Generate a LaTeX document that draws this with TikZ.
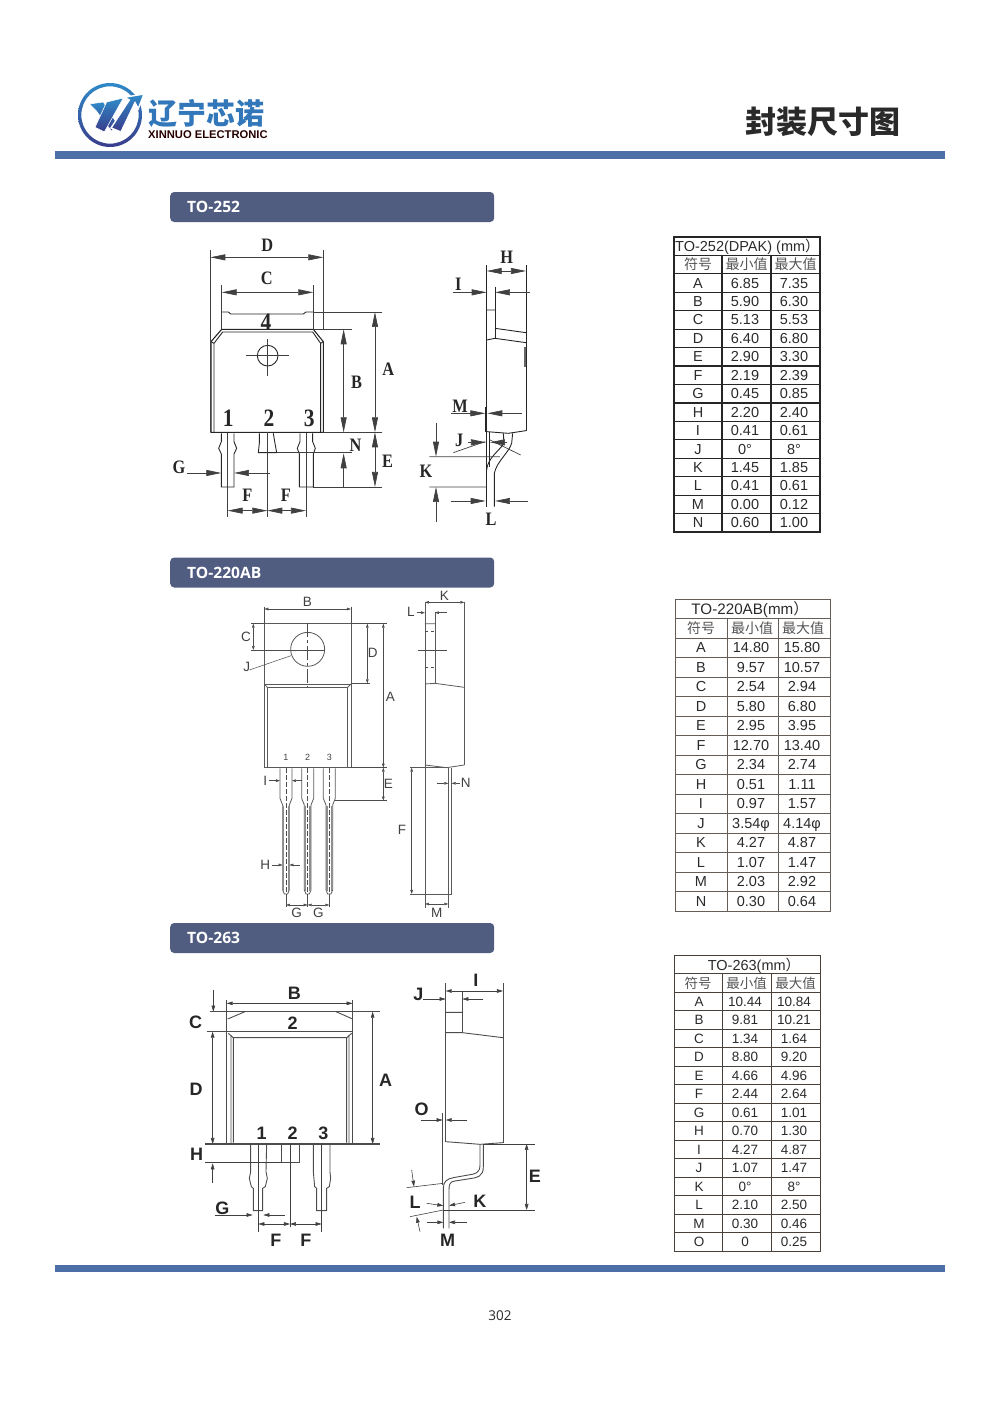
\documentclass[tikz,border=0pt]{standalone}
\usepackage{fontspec}
\setmainfont{Liberation Sans}
\newfontfamily\serifdim[FakeStretch=0.86]{Liberation Serif}
\newfontfamily\cjk{Noto Sans CJK SC}
\newfontfamily\headfont{Open Sans}
\usetikzlibrary{arrows.meta}
\definecolor{rulebl}{HTML}{4B6FA6}
\definecolor{barbl}{HTML}{505D80}
\definecolor{logobl}{HTML}{2F8AC8}
\definecolor{logoin}{HTML}{3A3C8C}
\definecolor{txtgr}{HTML}{2A2A2A}
\definecolor{tabbr}{HTML}{4A403A}
\newcommand{\fsz}[1]{\fontsize{#1}{#1}\selectfont}
\newcommand{\tablegrid}[4]{%
    \draw[gridline] (0,0) rectangle (#3,{16*#4});
    \foreach \r in {1,...,15} \draw[gridline] (0,{\r*#4}) -- (#3,{\r*#4});
    \draw[gridline] (#1,#4) -- (#1,{16*#4});
    \draw[gridline] (#2,#4) -- (#2,{16*#4});
}
\tikzset{
    zoomat/.style 2 args={shift={(#1,#2)}, x=0.3333pt, y=-0.3333pt},
    barbox/.style={fill=barbl, rounded corners=4pt, text=white, anchor=west, inner xsep=17pt, inner ysep=0pt,
        text width=290pt, minimum height=30pt, font=\headfont\bfseries\fsz{15.6}},
    rulebar/.style={fill=rulebl, draw=none},
    gridline/.style={draw=tabbr, line width=1pt},
    cell/.style={inner sep=0pt, text=txtgr, text height=10pt, text depth=0pt, font=\fsz{14.5}},
    cellcjk/.style={inner sep=0pt, text=txtgr!80, font=\cjk\fsz{14}},
    partA/.style={draw=black!85, line width=0.9pt},
    dimA/.style={draw=black!75, line width=0.7pt, >={Stealth[inset=0pt,length=15pt,width=6pt]}},
    lblA/.style={inner sep=0pt, text=black!85, font=\serifdim\bfseries\fsz{19}},
    numA/.style={inner sep=0pt, text=black!85, font=\serifdim\bfseries\fsz{25}},
    partB/.style={draw=black!65, line width=0.8pt},
    dimB/.style={draw=black!70, line width=0.5pt, >={Stealth[inset=0pt,length=4pt,width=2.6pt]}},
    lblB/.style={inner sep=0pt, text=black!75, font=\fsz{13.5}},
    partC/.style={draw=black!70, line width=0.9pt},
    dimC/.style={draw=black!75, line width=0.6pt, >={Stealth[inset=0pt,length=6pt,width=3.6pt]}},
    lblC/.style={inner sep=0pt, text=black!85, font=\bfseries\fsz{18}},
}
\begin{document}
\begin{tikzpicture}[x=1pt, y=-1pt]
    \useasboundingbox (0,0) rectangle (1000,1403);

    % page head and foot
    \begin{scope}[zoomat={75}{78}]
        \shade[top color=logobl, bottom color=logoin, even odd rule] (105,111) circle[radius=96] (105,111) circle[radius=86];
        \shadedraw[draw=white, line width=0.6pt, top color=logobl, bottom color=logoin] (43,78) -- (85,72) -- (125,135) -- (110,160) -- (65,100) -- cycle;
        \shadedraw[draw=white, line width=0.6pt, top color=logobl, bottom color=logoin] (95,72) -- (145,60) -- (88,162) -- (60,148) -- cycle;
        \shadedraw[draw=white, line width=1.4pt, top color=logobl, bottom color=logoin] (207,48) -- (190,92) -- (180,74) -- (138,162) -- (108,150) -- (163,66) -- (148,58) -- cycle;
    \end{scope}
    \node[inner sep=0pt, anchor=west, text=logobl!75!logoin, font=\cjk\bfseries\fsz{29}] (logozh) at (148,114) {辽宁芯诺};
    \node[inner sep=0pt, anchor=west, text=black!85!red, font=\bfseries\fsz{11.2}] (logoen) at (148,135) {XINNUO ELECTRONIC};
    \node[inner sep=0pt, anchor=east, text=txtgr, font=\cjk\bfseries\fsz{31}] (pagetitle) at (900.5,122) {封装尺寸图};
    \fill[rulebar] (55,151) rectangle (945,159);
    \fill[rulebar] (55,1265) rectangle (945,1272);
    \node[inner sep=0pt, text=txtgr, font=\headfont\fsz{13.5}] (pageno) at (500,1316) {302};

    \node[barbox] (bar252) at (170,207) {TO-252};
    \node[barbox] (bar220) at (170,572.5) {TO-220AB};
    \node[barbox] (bar263) at (170,938) {TO-263};

    % TO-252 front
    \begin{scope}[zoomat={160}{230}]
        \draw[partA, line width=1.1pt] (153,607) -- (153,335) -- (185,298) -- (460,298) -- (490,335) -- (490,607) -- cycle;
        \draw[partA] (162,607) -- (162,340) -- (188,306) -- (458,306) -- (482,340) -- (482,607);
        \draw[partA] (153,335) -- (162,340) (490,335) -- (482,340);
        \draw[partA] (185,246) -- (205,246) -- (212,252) -- (430,252) -- (438,246) -- (460,246);
        \draw[partA] (323,377) circle[radius=31];
        \draw[dimA] (257,377) -- (387,377) (323,327) -- (323,437);
        % pins
        \draw[partA] (184,610) -- (184,635) -- (176,655) -- (184,672) -- (184,771) -- (222,771) -- (222,672) -- (230,655) -- (222,635) -- (222,610);
        \draw[partA] (420,610) -- (420,635) -- (412,655) -- (418,672) -- (418,771) -- (460,771) -- (460,672) -- (466,655) -- (458,635) -- (458,610);
        \draw[partA] (298,610) -- (298,640) -- (295,668) -- (350,668) -- (345,640) -- (340,610);
        \draw[dimA] (203,610) -- (203,860) (322,607) -- (322,860) (438,610) -- (438,860);
        % extension lines
        \draw[dimA] (151,60) -- (151,607) (490,60) -- (490,298);
        \draw[dimA] (185,165) -- (185,298) (460,165) -- (460,298);
        \draw[dimA] (460,246) -- (665,246) (460,298) -- (575,298);
        \draw[dimA] (490,607) -- (665,607) (350,668) -- (575,668) (460,771) -- (665,771);
        % dimensions
        \draw[dimA,<->] (151,82) -- (490,82);
        \draw[dimA,<->] (185,187) -- (460,187);
        \draw[dimA,<->] (645,246) -- (645,607);
        \draw[dimA,<->] (551,298) -- (551,607);
        \draw[dimA,->] (551,771) -- (551,670);
        \draw[dimA,<->] (645,607) -- (645,771);
        \draw[dimA,<->] (203,842) -- (322,842);
        \draw[dimA,<->] (322,842) -- (438,842);
        \draw[dimA,->] (80,729) -- (184,729);
        \draw[dimA,->] (330,729) -- (222,729);
        \node[lblA] (d252) at (322,47) {D};
        \node[lblA] (c252) at (320,145) {C};
        \node[lblA] (a252) at (685,418) {A};
        \node[lblA] (b252) at (590,458) {B};
        \node[lblA] (n252) at (587,645) {N};
        \node[lblA] (e252) at (683,695) {E};
        \node[lblA] (f252a) at (262,797) {F};
        \node[lblA] (f252b) at (378,797) {F};
        \node[lblA] (g252) at (57,712) {G};
        \node[numA] (four252) at (318,278) {4};
        \node[numA] (one252) at (205,565) {1};
        \node[numA] (two252) at (327,565) {2};
        \node[numA] (three252) at (448,565) {3};
    \end{scope}

    % TO-252 side
    \begin{scope}[zoomat={400}{240}]
        \draw[partA] (260,75) -- (260,800) (378,75) -- (378,572) (285,140) -- (285,297);
        \draw[partA] (260,210) -- (285,210) (285,265) -- (378,278) (260,300) -- (285,295) -- (378,308);
        \draw[partA] (260,575) -- (325,580) -- (378,572);
        \draw[partA, line width=1.6pt, draw=black!60] (375,320) -- (375,380);
        \draw[partA, line width=1.4pt] (258,500) -- (258,575);
        \draw[partA] (338,580) -- (335,610) .. controls (325,640) and (290,665) .. (283,700) -- (283,800);
        \draw[partA] (310,580) -- (312,610) .. controls (300,630) and (262,655) .. (260,690);
        \draw[partA] (267,575) -- (267,680);
        \draw[dimA] (160,638) -- (255,605) (270,600) -- (362,645) (88,650) -- (300,650) (88,741) -- (258,741);
        \draw[dimA,<->] (260,93) -- (378,93);
        \draw[dimA,->] (158,157) -- (260,157);
        \draw[dimA,->] (390,157) -- (285,157);
        \draw[dimA,->] (152,520) -- (256,520);
        \draw[dimA,->] (365,520) -- (262,520);
        \draw[dimA,->] (108,548) -- (108,650);
        \draw[dimA,->] (108,845) -- (108,741);
        \draw[dimA,->] (152,783) -- (257,783);
        \draw[dimA,->] (385,783) -- (285,783);
        \draw[dimA,->] (205,607) -- (258,607);
        \draw[dimA,->] (320,607) -- (270,607);
        \node[lblA] (h252) at (320,52) {H};
        \node[lblA] (i252) at (175,132) {I};
        \node[lblA] (m252) at (180,498) {M};
        \node[lblA] (j252) at (178,600) {J};
        \node[lblA] (k252) at (78,695) {K};
        \node[lblA] (l252) at (273,838) {L};
    \end{scope}

    % TO-220AB front
    \begin{scope}[zoomat={230}{590}]
        \draw[partB] (103,101) -- (103,533) (363,101) -- (363,533);
        \draw[partB, line width=1.3pt] (103,101) -- (363,101) (103,533) -- (363,533);
        \draw[partB] (103,282) -- (363,282) (112,292) -- (353,292) (112,292) -- (112,530) (353,292) -- (353,530);
        \draw[partB] (103,282) -- (112,292) (363,282) -- (353,292);
        \draw[partB] (233,178) circle[radius=51];
        \draw[dimB, dash pattern=on 14pt off 3pt on 3pt off 3pt] (233,100) -- (233,292);
        \draw[dimB] (63,180) -- (285,180) (63,101) -- (103,101) (363,101) -- (470,101) (363,280) -- (420,280);
        \draw[dimB] (363,533) -- (470,533) (315,632) -- (470,632);
        \draw[dimB] (103,50) -- (103,101) (363,50) -- (363,101);
        \draw[dimB] (58,240) -- (183,197);
        % pins
        \foreach \c/\n/\lab in {168/pin1/1, 233/pin2/2, 298/pin3/3} {
            \begin{scope}[shift={(\c,0)}]
                \draw[partB] (-18,535) -- (-18,625) -- (-10,645) -- (-10,900) -- (-5,912) -- (5,912) -- (10,900) -- (10,645) -- (18,625) -- (18,535);
                \draw[partB, line width=1.3pt, draw=black!45] (-7,648) -- (-7,902) (7,648) -- (7,902);
                \draw[dimB, dash pattern=on 5pt off 2pt] (0,535) -- (0,908);
                \draw[dimB] (0,912) -- (0,950);
                \node[lblB, font=\fsz{9}] (\n) at (0,502) {\lab};
            \end{scope}
        }
        \draw[dimB,<->] (103,57) -- (363,57);
        \draw[dimB,<->] (70,101) -- (70,180);
        \draw[dimB,<->] (412,101) -- (412,280);
        \draw[dimB,<->] (460,101) -- (460,533);
        \draw[dimB,<->] (460,533) -- (460,632);
        \draw[dimB,->] (118,572) -- (150,572);
        \draw[dimB,->] (217,572) -- (186,572);
        \draw[dimB,->] (125,825) -- (158,825);
        \draw[dimB,->] (210,825) -- (178,825);
        \draw[dimB,<->] (168,945) -- (233,945);
        \draw[dimB,<->] (233,945) -- (298,945);
        \node[lblB] (b220) at (232,37) {B};
        \node[lblB] (c220) at (48,140) {C};
        \node[lblB] (d220) at (428,190) {D};
        \node[lblB] (a220) at (481,320) {A};
        \node[lblB] (e220) at (475,582) {E};
        \node[lblB] (j220) at (50,232) {J};
        \node[lblB] (i220) at (106,572) {I};
        \node[lblB] (h220) at (106,825) {H};
        \node[lblB] (g220a) at (200,968) {G};
        \node[lblB] (g220b) at (265,968) {G};
    \end{scope}

    % TO-220AB side
    \begin{scope}[zoomat={230}{590}]
        \draw[partB] (585,35) -- (585,955) (703,35) -- (703,525) (615,65) -- (615,280);
        \draw[partB] (585,101) -- (615,101) (585,282) -- (615,280) -- (703,292);
        \draw[partB] (585,525) -- (650,533) -- (703,525);
        \draw[partB] (655,533) -- (655,955) (665,533) -- (665,912) (540,912) -- (665,912) (540,533) -- (655,533);
        \draw[dimB, dashed] (585,125) -- (615,125) (585,232) -- (615,232);
        \draw[dimB] (565,180) -- (650,180);
        \draw[dimB,<->] (585,37) -- (703,37);
        \draw[dimB,->] (560,68) -- (585,68);
        \draw[dimB,->] (650,68) -- (615,68);
        \draw[dimB,->] (620,580) -- (655,580);
        \draw[dimB,->] (690,580) -- (665,580);
        \draw[dimB,<->] (545,533) -- (545,912);
        \draw[dimB,<->] (585,942) -- (655,942);
        \node[lblB] (k220) at (643,17) {K};
        \node[lblB] (l220) at (543,67) {L};
        \node[lblB] (n220) at (707,580) {N};
        \node[lblB] (f220) at (516,720) {F};
        \node[lblB] (m220) at (620,970) {M};
    \end{scope}

    % TO-263 front
    \begin{scope}[zoomat={180}{970}]
        \draw[partC] (140,90) -- (140,522) (518,90) -- (518,522);
        \draw[partC] (90,125) -- (600,125) (80,185) -- (518,185);
        \draw[partC] (195,125) -- (143,147) (468,125) -- (518,147);
        \draw[partC] (145,190) -- (160,203) -- (500,203) -- (515,190) (153,195) -- (153,520) (160,203) -- (160,518) (500,203) -- (500,518) (507,195) -- (507,520);
        \draw[partC, line width=1.2pt] (75,522) -- (600,522);
        % pins
        \draw[partC] (212,522) -- (212,605) -- (208,625) -- (214,650) -- (220,655) -- (220,722) -- (248,722) -- (248,655) -- (256,650) -- (262,625) -- (258,605) -- (260,522);
        \draw[partC] (400,522) -- (400,605) -- (404,650) -- (410,655) -- (410,722) -- (440,722) -- (440,655) -- (448,650) -- (452,625) -- (450,605) -- (450,522);
        \draw[partC] (305,522) -- (305,578) -- (357,578) -- (357,522);
        \draw[dimC] (75,578) -- (305,578);
        \draw[dimC] (330,522) -- (330,770) (235,522) -- (235,785) (425,522) -- (425,785);
        \draw[dimC,<->] (140,100) -- (518,100);
        \draw[dimC,->] (100,60) -- (100,125);
        \draw[dimC,<->] (98,185) -- (98,522);
        \draw[dimC,<->] (578,125) -- (578,522);
        \draw[dimC,->] (98,640) -- (98,580);
        \draw[dimC,->] (105,735) -- (218,735);
        \draw[dimC,->] (315,735) -- (250,735);
        \draw[dimC,<->] (235,762) -- (330,762);
        \draw[dimC,<->] (330,762) -- (425,762);
        \node[lblC] (b263) at (343,70) {B};
        \node[lblC] (c263) at (47,157) {C};
        \node[lblC] (d263) at (48,357) {D};
        \node[lblC] (a263) at (617,332) {A};
        \node[lblC] (h263) at (50,553) {H};
        \node[lblC] (g263) at (127,715) {G};
        \node[lblC] (f263a) at (288,810) {F};
        \node[lblC] (f263b) at (378,810) {F};
        \node[lblC] (top263) at (338,160) {2};
        \node[lblC] (one263) at (245,490) {1};
        \node[lblC] (two263) at (338,490) {2};
        \node[lblC] (three263) at (430,490) {3};
    \end{scope}

    % TO-263 side
    \begin{scope}[zoomat={400}{965}]
        \draw[partC] (137,55) -- (137,530) (309,55) -- (309,533) (187,80) -- (187,203);
        \draw[partC] (137,142) -- (187,142) (137,203) -- (187,203) -- (309,218);
        \draw[partC] (137,530) -- (240,538) -- (309,533);
        \draw[partC, line width=1.3pt] (128,445) -- (128,660);
        \draw[partC] (240,538) -- (240,600) .. controls (240,625) and (225,627) .. (205,630) -- (160,638) .. controls (140,642) and (130,650) .. (130,670) -- (130,790);
        \draw[partC] (250,538) -- (250,605) .. controls (250,635) and (232,638) .. (210,641) -- (165,648) .. controls (150,650) and (147,658) .. (147,675) -- (147,790);
        \draw[dimC] (250,537) -- (405,537) (130,735) -- (405,735);
        \draw[dimC] (20,668) -- (130,655) (30,755) -- (130,735);
        \draw[dimC,<->] (137,78) -- (309,78);
        \draw[dimC,->] (70,102) -- (137,102);
        \draw[dimC,->] (250,102) -- (187,102);
        \draw[dimC,<->] (380,537) -- (380,735);
        \draw[dimC,->] (62,465) -- (128,465);
        \draw[dimC,->] (200,465) -- (137,465);
        \draw[dimC,->] (80,715) -- (130,722);
        \draw[dimC,->] (195,712) -- (147,722);
        \draw[dimC,->] (35,615) -- (42,665);
        \draw[dimC,->] (60,800) -- (50,755);
        \draw[dimC,->] (80,772) -- (130,772);
        \draw[dimC,->] (200,772) -- (147,772);
        \node[lblC] (i263) at (228,45) {I};
        \node[lblC] (j263) at (55,88) {J};
        \node[lblC] (o263) at (65,432) {O};
        \node[lblC] (e263) at (405,635) {E};
        \node[lblC] (k263) at (240,708) {K};
        \node[lblC] (l263) at (45,712) {L};
        \node[lblC] (m263) at (143,825) {M};
    \end{scope}

    % table TO-252
    \begin{scope}[shift={(674,237)}, name prefix=ta-, gridline/.append style={draw=black!85, line width=1.2pt}]
        \tablegrid{48}{97}{146}{18.44}
        \node[cell, anchor=west] (title) at (1,9) {TO-252(DPAK) (mm{\cjk ）}};
        \node[cellcjk] (hsym) at (24,27.6) {符号};
        \node[cellcjk] (hmin) at (72.5,27.6) {最小值};
        \node[cellcjk] (hmax) at (121.5,27.6) {最大值};
        \foreach \s/\lo/\hi [count=\i] in {A/6.85/7.35, B/5.90/6.30, C/5.13/5.53, D/6.40/6.80, E/2.90/3.30, F/2.19/2.39, G/0.45/0.85, H/2.20/2.40, I/0.41/0.61, J/0\textdegree/8\textdegree, K/1.45/1.85, L/0.41/0.61, M/0.00/0.12, N/0.60/1.00} {
            \node[cell] (s\i) at (24,{(\i+1.5)*18.44}) {\s};
            \node[cell] (lo\i) at (71,{(\i+1.5)*18.44}) {\lo};
            \node[cell] (hi\i) at (120,{(\i+1.5)*18.44}) {\hi};
        }
    \end{scope}

    % table TO-220AB
    \begin{scope}[shift={(675,599)}, name prefix=tb-, gridline/.append style={draw=tabbr!85}]
        \tablegrid{52}{103}{155}{19.5}
        \node[cell, font=\fsz{15.2}] (title) at (75,10) {TO-220AB(mm{\cjk ）}};
        \node[cellcjk] (hsym) at (26,29) {符号};
        \node[cellcjk] (hmin) at (77,29) {最小值};
        \node[cellcjk] (hmax) at (128,29) {最大值};
        \foreach \s/\lo/\hi [count=\i] in {A/14.80/15.80, B/9.57/10.57, C/2.54/2.94, D/5.80/6.80, E/2.95/3.95, F/12.70/13.40, G/2.34/2.74, H/0.51/1.11, I/0.97/1.57, J/3.54φ/4.14φ, K/4.27/4.87, L/1.07/1.47, M/2.03/2.92, N/0.30/0.64} {
            \node[cell] (s\i) at (26,{(\i+1.5)*19.5}) {\s};
            \node[cell] (lo\i) at (76,{(\i+1.5)*19.5}) {\lo};
            \node[cell] (hi\i) at (127,{(\i+1.5)*19.5}) {\hi};
        }
    \end{scope}

    % table TO-263
    \begin{scope}[shift={(674,955)}, name prefix=tc-, cell/.append style={font=\fsz{13.5}}, cellcjk/.append style={font=\cjk\fsz{13.5}}]
        \tablegrid{48}{97}{146}{18.5}
        \node[cell, font=\fsz{14.5}] (title) at (80,10) {TO-263(mm{\cjk ）}};
        \node[cellcjk] (hsym) at (24,28) {符号};
        \node[cellcjk] (hmin) at (72.5,28) {最小值};
        \node[cellcjk] (hmax) at (121.5,28) {最大值};
        \foreach \s/\lo/\hi [count=\i] in {A/10.44/10.84, B/9.81/10.21, C/1.34/1.64, D/8.80/9.20, E/4.66/4.96, F/2.44/2.64, G/0.61/1.01, H/0.70/1.30, I/4.27/4.87, J/1.07/1.47, K/0\textdegree/8\textdegree, L/2.10/2.50, M/0.30/0.46, O/0/0.25} {
            \node[cell] (s\i) at (25,{(\i+1.5)*18.5}) {\s};
            \node[cell] (lo\i) at (71,{(\i+1.5)*18.5}) {\lo};
            \node[cell] (hi\i) at (120,{(\i+1.5)*18.5}) {\hi};
        }
    \end{scope}
\end{tikzpicture}
\end{document}
